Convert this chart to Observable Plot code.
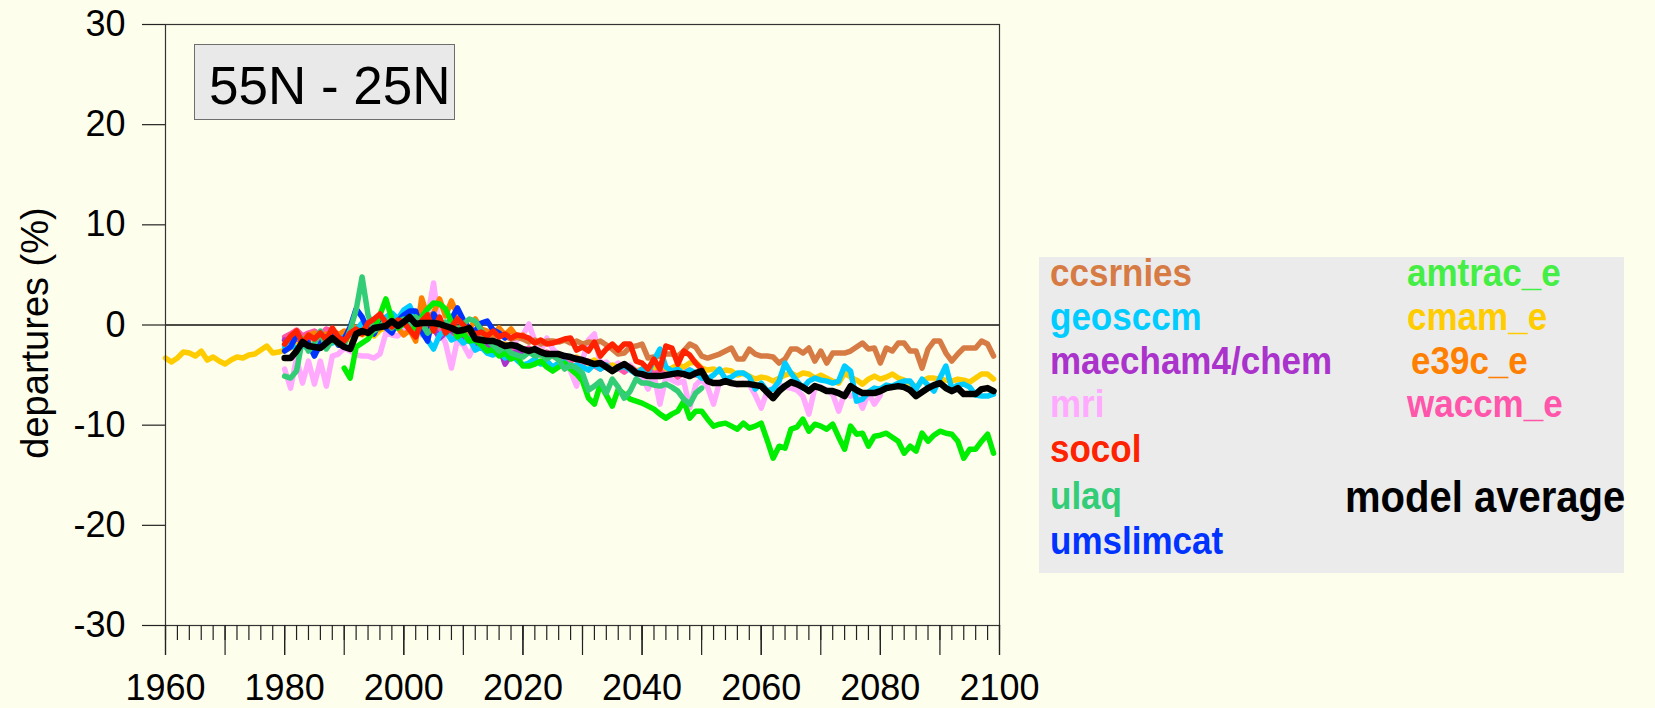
<!DOCTYPE html>
<html>
<head>
<meta charset="utf-8">
<script src="https://cdn.jsdelivr.net/npm/d3@7"></script>
<script src="https://cdn.jsdelivr.net/npm/@observablehq/plot@0.6"></script>
<style>
  html, body { margin: 0; padding: 0; background: #fefeec; }
  #wrap { position: relative; width: 1655px; height: 708px; overflow: hidden; font-family: "Liberation Sans", Arial, sans-serif; }
  #chart { position: absolute; left: 0; top: 0; }
  #title { position: absolute; left: 194px; top: 44px; width: 261px; height: 76px; box-sizing: border-box;
           border: 1.5px solid #6e6e6e; background: #e9e9e9; }
  #title span { position: absolute; left: 14px; top: 14px; font-size: 53px; line-height: 53px; color: #000; white-space: nowrap; }
  #legend { position: absolute; left: 1039px; top: 257px; width: 585px; height: 316px; background: #ebebeb; }
  #legend span { position: absolute; font-weight: bold; font-size: 35px; line-height: 35px; white-space: nowrap;
                 transform: scaleY(1.1); transform-origin: left 85%; }
</style>
</head>
<body>
<div id="wrap">
  <div id="chart"></div>
  <div id="title"><span>55N - 25N</span></div>
  <div id="legend"></div>
</div>
<script>
// ---------- data (percent departures, one value per year) ----------
const cmamStart = 1960;
const cmamValues = [
  -3.3, -3.7, -3.3, -2.7, -2.8, -3.1, -2.6, -3.5, -3.2, -3.6,
  -3.9, -3.5, -3.2, -3.3, -3.0, -2.9, -2.5, -2.1, -2.8, -2.7,
  -2.5, -2.3, -1.5, -2.0, -1.6, -1.8, -1.2, -1.5, -1.0, -1.4,
  -1.2, -1.5, -0.8, -1.0, -0.7, -1.1, -0.5, -0.3, 0.0, -0.2,
  0.2, 0.0, -0.3, 0.1, -0.2, -0.5, -0.4, -0.8, -0.6, -1.0,
  -1.2, -1.0, -1.5, -1.3, -1.8, -1.6, -2.0, -1.9, -2.3, -2.2,
  -2.5, -2.4, -2.8, -2.6, -3.0, -3.1, -2.9, -3.3, -3.5, -3.2,
  -3.6, -3.8, -3.5, -4.0, -4.2, -4.0, -4.3, -4.5, -4.2, -4.6,
  -4.4, -4.6, -4.3, -4.8, -4.5, -4.3, -4.0, -4.2, -3.8, -3.7,
  -4.3, -4.5, -4.4, -4.7, -4.5, -4.6, -5.0, -4.8, -5.1, -5.4,
  -5.2, -5.3, -5.6, -5.3, -5.0, -4.8, -5.1, -4.8, -4.9, -5.3,
  -5.0, -5.3, -5.6, -5.8, -4.8, -5.2, -5.5, -5.9, -5.4, -5.1,
  -5.4, -5.2, -4.9, -5.3, -5.5, -5.8, -6.2, -5.6, -5.3, -5.3,
  -5.4, -5.5, -5.6, -5.4, -5.5, -5.7, -5.3, -4.9, -4.9, -5.4
];
const ccsrniesStart = 1980;
const ccsrniesValues = [
  -1.5, -1.0, -0.8, -1.2, -0.9, -1.3, -0.7, -1.0, -0.6, -0.9,
  -0.8, -0.5, -0.6, -0.3, -0.4, 0.0, 0.2, -0.2, 0.3, 0.1,
  0.4, 0.1, 0.5, 0.2, 0.0, 0.3, -0.2, 0.1, -0.4, -0.3,
  -0.5, -0.8, -0.6, -1.0, -0.9, -1.2, -0.8, -1.1, -1.4, -1.2,
  -1.4, -1.7, -1.5, -1.9, -1.6, -1.6, -1.7, -1.5, -1.8, -1.6,
  -1.9, -1.7, -1.8, -1.6, -2.0, -2.4, -2.9, -2.8, -2.2, -2.1,
  -1.9, -3.3, -3.2, -3.1, -2.9, -2.9, -3.1, -2.6, -1.9, -2.2,
  -3.1, -3.3, -3.1, -2.9, -2.6, -2.3, -3.4, -3.4, -2.4, -2.9,
  -3.1, -3.1, -3.2, -3.8, -3.4, -2.4, -2.4, -2.8, -2.3, -3.6,
  -2.6, -3.8, -2.8, -2.8, -2.8, -2.6, -2.2, -1.8, -2.4, -2.3,
  -3.8, -2.3, -2.6, -1.8, -1.8, -2.6, -2.6, -4.3, -2.4, -1.6,
  -1.6, -2.8, -3.6, -2.9, -2.3, -2.3, -2.3, -1.6, -1.9, -3.1
];
const geosccmStart = 1980;
const geosccmValues = [
  -2.2, -1.8, -2.5, -2.0, -2.4, -1.9, -2.1, -1.6, -1.8, -1.5,
  -1.2, -1.0, -0.5, 0.2, 0.0, -0.3, 0.4, 0.8, 1.2, 0.6,
  1.5, 1.9, 0.5, -0.8, -1.5, -2.4, -1.0, -0.6, -1.5, -1.2,
  -1.8, -1.4, -2.5, -2.2, -2.8, -3.0, -2.6, -3.3, -2.9, -3.5,
  -4.0, -3.8, -3.4, -3.9, -3.6, -4.2, -3.8, -3.7, -4.3, -4.0,
  -4.2, -4.5, -3.9, -4.4, -4.0, -4.6, -4.3, -4.1, -4.5, -4.9,
  -4.4, -4.7, -3.5, -2.4, -4.2, -4.6, -4.4, -4.9, -4.5, -4.8,
  -5.3, -5.4, -5.0, -4.4, -5.4, -5.2, -4.8, -4.8, -5.2, -6.4,
  -5.8, -6.6, -6.4, -5.6, -3.8, -4.8, -5.6, -6.3, -5.6, -5.3,
  -5.5, -5.6, -5.8, -5.6, -4.1, -4.6, -7.6, -7.4, -6.7, -6.3,
  -6.4, -6.0, -6.1, -5.8, -5.6, -5.6, -6.4, -5.4, -6.0, -6.6,
  -5.3, -4.1, -6.4, -6.0, -5.9, -6.2, -7.0, -7.1, -7.1, -6.9
];
const maechamStart = 1980;
const maechamValues = [
  -1.5, -2.0, -1.2, -1.8, -1.4, -1.0, -1.6, -1.3, -0.8, -1.2,
  -1.0, -0.6, -0.9, -0.4, -0.7, -0.2, 0.3, -0.1, 0.4, 0.6,
  0.9, 1.7, 1.0, 0.2, 0.5, -0.3, -1.3, -0.8, -0.5, -1.0,
  -1.4, -1.6, -1.9, -2.3, -1.8, -2.5, -2.2, -3.9, -3.0, -2.6,
  -3.0
];
const mriStart = 1980;
const mriValues = [
  -4.4, -6.3, -3.3, -5.8, -3.6, -5.9, -3.6, -6.1, -3.1, -2.9,
  -2.3, -2.6, -3.0, -3.1, -3.1, -3.3, -2.9, -0.8, -1.0, -1.1,
  -0.6, 1.5, 0.5, -1.0, 0.8, 4.2, -0.5, -1.8, -4.3, -1.5,
  -2.0, -3.1, -1.8, -2.3, -2.5, -2.0, -2.4, -1.9, -2.2, -1.5,
  -1.0, 0.1, -1.6, -2.6, -1.3, -2.4, -3.0, -3.3, -4.6, -6.1,
  -3.5, -1.5, -0.9, -3.9, -3.7, -4.2, -3.8, -4.5, -4.0, -4.6,
  -5.2, -6.4, -5.0, -7.9, -5.2, -5.5, -5.8, -5.6, -8.3, -6.0,
  -5.4, -6.2, -7.9, -5.7, -5.6, -5.8, -6.0, -5.8, -5.9, -7.0,
  -8.3, -6.6, -6.3, -6.0, -6.2, -6.3, -6.5, -7.1, -8.9, -6.3,
  -6.2, -6.5, -6.9, -8.6, -6.8, -7.1, -6.9, -8.3, -6.8, -7.9,
  -7.0
];
const socolStart = 1980;
const socolValues = [
  -1.9, -1.1, -0.6, -1.8, -1.0, -1.4, -0.8, -1.5, -0.3, -1.2,
  -1.6, -0.8, -0.4, -0.9, 0.2, 0.6, 1.1, 0.2, -0.2, 0.5,
  0.3, -0.5, -1.2, 0.4, 1.0, -0.6, 0.8, -0.8, -0.2, 0.6,
  0.0, -0.5, -0.9, -0.7, -1.1, -0.6, -1.2, -0.9, -1.3, -1.0,
  -1.1, -1.3, -1.8, -1.5, -1.9, -1.8, -1.6, -1.4, -1.3, -2.5,
  -2.2, -2.6, -1.7, -3.1, -2.4, -1.9, -2.5, -1.9, -1.9, -3.6,
  -3.8, -4.4, -3.4, -4.4, -2.1, -2.3, -3.9, -2.6, -3.0, -3.8,
  -4.4
];
const ulaqStart = 1980;
const ulaqValues = [
  -5.1, -5.3, -4.6, -1.4, -2.6, -1.8, -0.6, -2.4, -1.5, -1.9,
  -2.0, -0.5, 1.5, 4.8, 1.0, -0.6, -0.2, 0.5, -0.3, 0.3,
  0.6, 0.0, 0.8, 0.2, -0.8, -0.3, 0.0, 0.3, -0.2, -0.6,
  0.1, 0.6, 0.4, -0.5, -1.5, -2.0, -2.6, -2.2, -2.8, -3.0,
  -3.2, -2.7, -3.1, -2.9, -3.4, -3.0, -3.5, -4.4, -4.0, -4.3,
  -4.8, -6.5, -6.1, -5.6, -6.8, -5.4, -6.2, -7.3, -6.6, -5.4,
  -5.8, -5.8, -6.0, -6.1, -5.9, -6.2, -6.6, -7.4, -7.9, -6.8,
  -6.3
];
const umslimcatStart = 1980;
const umslimcatValues = [
  -2.6, -2.2, -1.0, -1.5, -1.8, -3.1, -1.9, -1.2, -1.0, -2.0,
  -1.4, -0.2, 1.6, 0.8, -0.5, -0.9, 0.2, -0.3, -0.8, 0.4,
  1.0, 1.4, 1.4, -0.6, -1.6, 1.1, 0.3, -0.2, 0.6, 1.7,
  0.5, -0.4, -0.6, 0.2, 0.4, -0.5, -0.8, -1.3
];
const amtracStart = 1990;
const amtracValues = [
  -4.3, -5.3, -2.2, -1.8, -1.4, -0.4, 1.0, 2.6, 0.6, -0.3,
  0.1, 0.3, -0.4, 0.8, 1.6, 2.2, 2.1, 1.6, 0.3, -1.2,
  -0.8, -1.6, -1.5, -2.0, -2.6, -2.4, -3.1, -2.8, -3.4, -3.1,
  -4.1, -4.1, -3.9, -3.6, -4.2, -4.6, -4.2, -3.8, -4.4, -4.9,
  -5.6, -7.3, -7.9, -5.9, -7.0, -8.1, -6.4, -6.9, -7.4, -7.6,
  -7.8, -8.1, -8.4, -8.9, -9.3, -8.9, -8.6, -7.6, -9.3, -8.6,
  -8.6, -9.4, -10.1, -9.9, -9.8, -10.1, -10.4, -9.8, -10.3, -10.1,
  -9.8, -11.5, -13.3, -12.1, -12.3, -10.4, -10.2, -9.4, -10.6, -9.9,
  -10.1, -10.4, -9.9, -11.2, -12.4, -10.1, -10.9, -10.8, -12.1, -11.1,
  -11.0, -10.8, -11.2, -11.6, -12.8, -12.1, -12.6, -10.8, -11.6, -11.0,
  -10.6, -10.8, -10.9, -11.6, -13.3, -12.4, -12.4, -11.6, -10.9, -12.8
];
const e39cStart = 1980;
const e39cValues = [
  -2.0, -1.6, -1.2, -1.5, -1.0, -0.8, -1.2, -0.9, -1.4, -1.0,
  -0.6, -0.9, -0.2, -0.5, -0.1, 0.3, -0.4, 0.5, 0.0, -0.3,
  -1.0, -0.5, -1.6, 2.7, 0.8, 1.2, 2.6, 0.9, 2.4, 1.0,
  0.2, -0.5, 0.6, -0.4, -0.6, -0.9, -0.3, -1.0, -0.4, -1.2,
  -1.0
];
const waccmStart = 1980;
const waccmValues = [
  -1.2, -0.9, -0.5, -1.1, -0.8, -0.6, -1.0, -0.4, -0.7, -1.1,
  -0.8, -0.5, -0.3, -0.7, 0.1, -0.2, 0.3, 0.0, 0.5, 0.2,
  0.1, -0.3, 0.4, 0.0, -0.5, 0.2, -0.6, -0.2, -0.9, -0.5,
  -1.0, -1.3, -1.1, -1.6, -1.4, -2.0, -1.8, -2.2, -2.4, -2.1,
  -2.6, -2.3, -2.8, -3.0, -2.7, -3.1, -3.4, -3.2, -3.6, -3.3,
  -3.9, -3.6, -4.1, -4.4, -4.0, -4.5, -4.3, -4.7, -4.2, -4.6,
  -4.8, -4.4, -4.9, -4.6, -5.0, -4.7, -5.2, -4.8, -4.5, -5.0,
  -4.9
];
const averageStart = 1980;
const averageValues = [
  -3.3, -3.3, -2.6, -1.7, -2.1, -2.2, -2.3, -1.8, -1.3, -1.8,
  -2.2, -2.4, -0.9, -0.6, -0.8, -0.3, -0.2, -0.1, 0.4, -0.1,
  0.3, 0.8, 0.1, 0.2, 0.2, 0.2, 0.1, -0.1, -0.3, -0.6,
  -0.5, -0.3, -1.4, -1.5, -1.6, -1.6, -1.8, -2.1, -2.0, -2.1,
  -2.4, -2.6, -2.4, -2.7, -2.9, -2.9, -2.9, -3.1, -3.2, -3.4,
  -3.5, -3.7, -3.9, -3.8, -4.2, -4.6, -4.2, -3.9, -4.3, -4.8,
  -4.9, -5.1, -5.1, -5.1, -5.0, -4.9, -4.8, -4.9, -5.1, -4.8,
  -4.6, -5.6, -5.8, -5.8, -5.6, -5.8, -5.9, -5.9, -5.9, -6.0,
  -6.1, -6.7, -7.3, -6.6, -6.1, -5.7, -5.9, -6.2, -6.6, -6.1,
  -6.3, -6.6, -6.6, -6.8, -7.1, -6.1, -6.5, -6.8, -6.8, -6.8,
  -6.6, -6.3, -6.2, -6.1, -6.2, -6.5, -7.1, -6.7, -6.3, -6.0,
  -5.8, -6.3, -6.6, -6.3, -6.9, -6.9, -6.9, -6.4, -6.3, -6.6
];

// legend names and colours
const modelNames  = ["ccsrnies", "geosccm", "maecham4/chem", "mri", "socol", "ulaq", "umslimcat",
                     "amtrac_e", "cmam_e", "e39c_e", "waccm_e", "model average"];
const modelColors = ["#d77b45", "#00ccff", "#aa33cc", "#ffaaff", "#ff2200", "#33cc77", "#0033ff",
                     "#00ee00", "#ffcc00", "#ff8000", "#ff55aa", "#000000"];
const legendTextColors = ["#d77b45", "#00ccff", "#aa33cc", "#ffaaff", "#ff2200", "#33cc77", "#0033ff",
                          "#44ee44", "#ffcc00", "#ff8000", "#ff55aa", "#000000"];

// axis ticks
const yTicks = [-30, -20, -10, 0, 10, 20, 30];
const xLabelTicks = [1960, 1980, 2000, 2020, 2040, 2060, 2080, 2100];
const xMajorTicks = d3.range(1960, 2101, 10);
const xMinorTicks = d3.range(1960, 2101, 2);

// ---------- build rows ----------
const seriesDefs = {
  "ccsrnies": [ccsrniesStart, ccsrniesValues],
  "geosccm": [geosccmStart, geosccmValues],
  "maecham4/chem": [maechamStart, maechamValues],
  "mri": [mriStart, mriValues],
  "socol": [socolStart, socolValues],
  "ulaq": [ulaqStart, ulaqValues],
  "umslimcat": [umslimcatStart, umslimcatValues],
  "amtrac_e": [amtracStart, amtracValues],
  "cmam_e": [cmamStart, cmamValues],
  "e39c_e": [e39cStart, e39cValues],
  "waccm_e": [waccmStart, waccmValues],
  "model average": [averageStart, averageValues]
};
function rowsFor(name) {
  const [start, vals] = seriesDefs[name];
  return vals.map((v, i) => ({model: name, year: start + i, value: v}));
}
const colorOf = Object.fromEntries(modelNames.map((m, i) => [m, modelColors[i]]));
const drawOrder = ["mri", "cmam_e", "ccsrnies", "waccm_e", "maecham4/chem", "e39c_e", "geosccm",
                   "umslimcat", "amtrac_e", "ulaq", "socol"];

const lineMarks = drawOrder.map(name => Plot.line(rowsFor(name), {
  x: "year", y: "value", stroke: colorOf[name], strokeWidth: 5.5, strokeLinejoin: "round", strokeLinecap: "round"
}));

const axisStyle = {stroke: "#222", strokeWidth: 1.2, strokeOpacity: 1};

const chart = Plot.plot({
  width: 1655,
  height: 708,
  marginLeft: 165,
  marginRight: 656,
  marginTop: 24,
  marginBottom: 83,
  style: {background: "transparent", fontFamily: "'Liberation Sans', Arial, sans-serif", color: "#000"},
  x: {domain: [1960, 2100], axis: null},
  y: {domain: [-30, 30], axis: null},
  marks: [
    Plot.ruleY([0], {stroke: "#111", strokeWidth: 1.5}),
    ...lineMarks,
    Plot.line(rowsFor("model average"), {x: "year", y: "value", stroke: "#000", strokeWidth: 6.5, strokeLinejoin: "round", strokeLinecap: "round"}),
    Plot.frame({stroke: "#333", strokeWidth: 1.2}),
    Plot.axisY({ticks: yTicks, tickSize: 23, tickPadding: 17, tickFormat: d => String(d), fontSize: 36, label: null, ...axisStyle}),
    Plot.axisX({ticks: xMinorTicks, tickSize: 15, tickFormat: () => "", label: null, ...axisStyle}),
    Plot.axisX({ticks: xMajorTicks, tickSize: 30, tickFormat: () => "", label: null, ...axisStyle}),
    Plot.axisX({ticks: xLabelTicks, tickSize: 30, tickPadding: 19, tickFormat: d => String(d), fontSize: 36, label: null, ...axisStyle}),
    Plot.text(["departures (%)"], {frameAnchor: "left", textAnchor: "middle", dx: -130, dy: 8, rotate: -90, fontSize: 38, fill: "#000"})
  ]
});
document.getElementById("chart").appendChild(chart);

// ---------- legend (HTML, names from the arrays above) ----------
const legendPos = [
  [11, -1], [11, 43], [11, 87], [11, 130], [11, 175], [11, 222], [11, 267],
  [368, -1], [368, 43], [372, 87], [368, 130], [306, 221]
];
const legend = document.getElementById("legend");
modelNames.forEach((name, i) => {
  const s = document.createElement("span");
  s.textContent = name;
  s.style.color = legendTextColors[i];
  s.style.left = legendPos[i][0] + "px";
  s.style.top = legendPos[i][1] + "px";
  if (name === "model average") { s.style.fontSize = "40px"; s.style.lineHeight = "40px"; }
  legend.appendChild(s);
});
</script>
</body>
</html>
